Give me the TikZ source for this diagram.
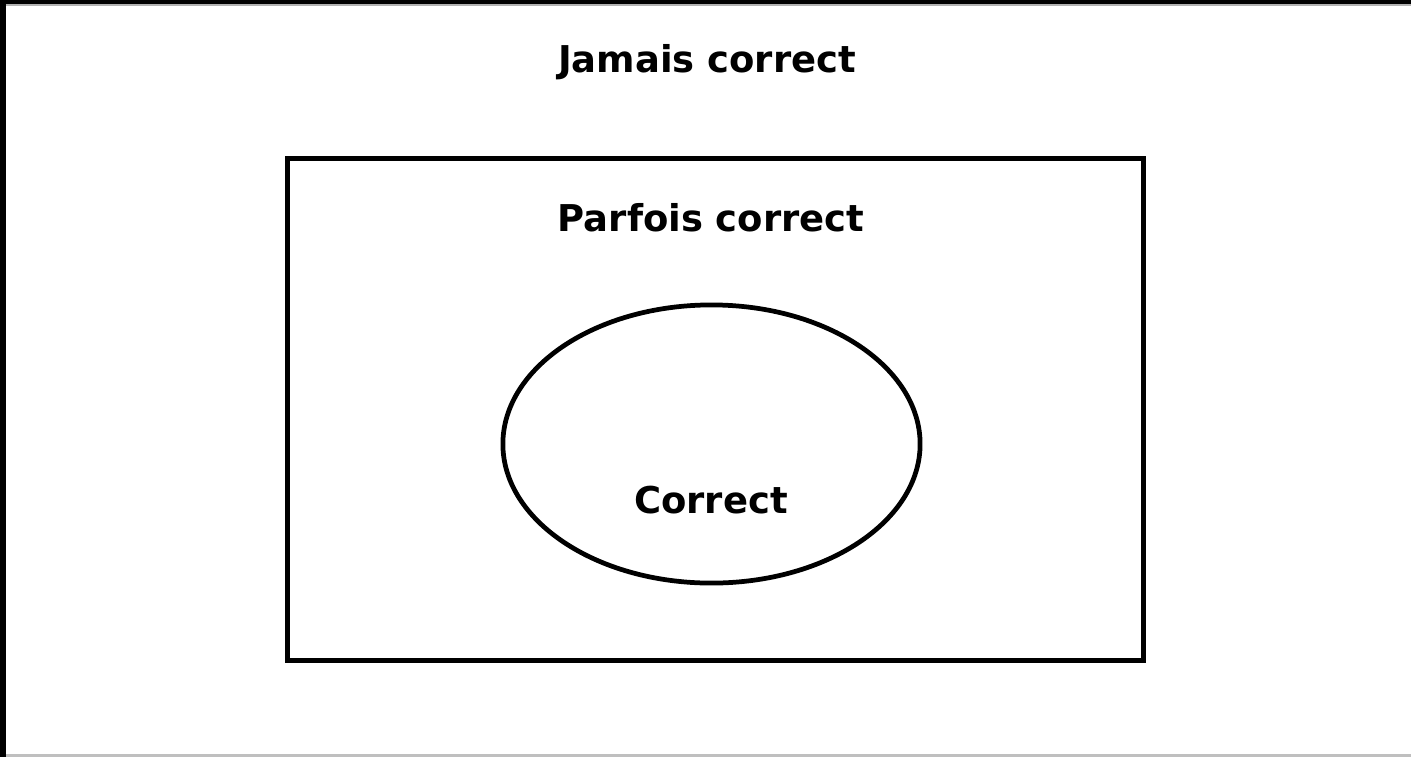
\documentclass[tikz,border=0pt]{standalone}
\usepackage{fontspec}
\setmainfont{DejaVu Sans}
\usepackage{tikz}
\usetikzlibrary{shapes.geometric, positioning}

\begin{document}
\begin{tikzpicture}[
    x=0.01cm, y=-0.01cm,
    label/.style={font=\bfseries\fontsize{10.5}{12}\selectfont, inner sep=0pt},
    box/.style={draw=black, line width=1.35pt, minimum width=8.55cm, minimum height=5.01cm, inner sep=0pt},
    region/.style={ellipse, draw=black, line width=1.35pt, minimum width=4.17cm, minimum height=2.78cm, inner sep=0pt}
]

% frame of the page
\useasboundingbox (0,0) rectangle (1411,757);
\fill[black] (0,0) rectangle (6,757);
\fill[black] (0,0) rectangle (1411,4.5);
\draw[gray!60, line width=0.6pt] (6,5) -- (1411,5);
\draw[gray!50, line width=1pt] (6,755.5) -- (1411,755.5);

\node (never) [label] at (707,62) {Jamais correct};
\node (sometimes) [box] at (715.5,409.5) {};
\node (sometimestxt) [label] at (711,218) {Parfois correct};
\node (always) [region] at (711.5,444) {};
\node (alwaystxt) [label] at (711,500) {Correct};

\end{tikzpicture}
\end{document}
